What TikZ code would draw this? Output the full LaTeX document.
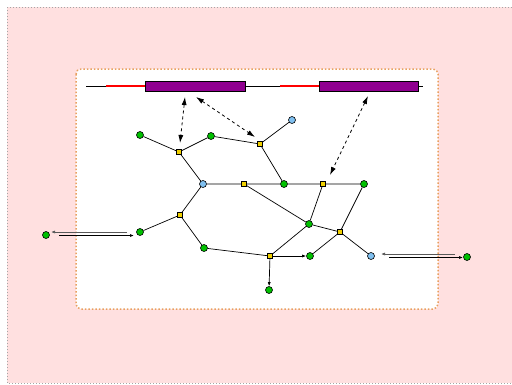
\documentclass[tikz,border=0pt]{standalone}
\usetikzlibrary{arrows.meta}
\definecolor{pinkbg}{HTML}{FFE0E0}
\definecolor{orangeb}{HTML}{E8A060}
\definecolor{grn}{HTML}{00C000}
\definecolor{ylw}{HTML}{F0D000}
\definecolor{blu}{HTML}{80C0F0}
\definecolor{purp}{HTML}{900090}
\begin{document}
\begin{tikzpicture}[x=1pt,y=-1pt,line width=0.8pt,
  gnode/.style={circle,draw=black,fill=grn,inner sep=0pt,minimum size=7pt,line width=0.6pt},
  bnode/.style={circle,draw=black,fill=blu,inner sep=0pt,minimum size=7pt,line width=0.6pt},
  ynode/.style={rectangle,draw=black,fill=ylw,inner sep=0pt,minimum size=5pt,line width=0.6pt},
  edge/.style={draw=black,line width=0.7pt},
  darr/.style={dashed,line width=0.8pt,{Latex[length=8pt,width=5pt]}-{Latex[length=8pt,width=5pt]}},
  sarr/.style={line width=0.7pt,-{Latex[length=4pt,width=3pt]}},
  exon/.style={draw=black,fill=purp,line width=0.7pt}]
\useasboundingbox (0,0) rectangle (512,384);
\draw[fill=pinkbg,draw=gray!70,dotted,line width=1pt] (7,7) rectangle (530,383);
\draw[fill=white,draw=orangeb,dotted,line width=1.5pt,rounded corners=5pt] (76,69) rectangle (438,309);
% track
\coordinate (t0) at (86,86);
\coordinate (t1) at (423,86);
\draw[line width=0.8pt] (t0) -- (t1);
\draw[red,line width=1.2pt] (106,86) -- (145,86);
\draw[red,line width=1.2pt] (280,86) -- (319,86);
\node[exon,minimum width=100pt,minimum height=10pt,inner sep=0pt] (e1) at (195,86) {};
\node[exon,minimum width=99pt,minimum height=10pt,inner sep=0pt] (e2) at (368.5,86) {};
% nodes
\node[gnode] (G1) at (140,135) {};
\node[ynode] (Y1) at (179,152) {};
\node[gnode] (G2) at (211,136) {};
\node[ynode] (Y2) at (260,144) {};
\node[bnode] (B1) at (292,120) {};
\node[bnode] (B2) at (203,184) {};
\node[ynode] (Y3) at (244,184) {};
\node[gnode] (G3) at (284,184) {};
\node[ynode] (Y4) at (323,184) {};
\node[gnode] (G4) at (364,184) {};
\node[ynode] (Y5) at (180,215) {};
\node[gnode] (G5) at (140,232) {};
\node[gnode] (G6) at (204,248) {};
\node[gnode] (G7) at (309,224) {};
\node[ynode] (Y6) at (340,232) {};
\node[ynode] (Y7) at (270,256) {};
\node[gnode] (G8) at (310,256) {};
\node[bnode] (B3) at (371,256) {};
\node[gnode] (G9) at (269,290) {};
\node[gnode] (G10) at (46,235) {};
\node[gnode] (G11) at (467,257) {};
% edges
\path[edge] (G1) -- (Y1) (Y1) -- (G2) (G2) -- (Y2) (Y2) -- (B1) (Y2) -- (G3)
  (Y1) -- (B2) (B2) -- (Y3) (Y3) -- (G3) (G3) -- (Y4) (Y4) -- (G4)
  (Y3) -- (G7) (Y4) -- (G7) (G7) -- (Y6) (G4) -- (Y6) (Y6) -- (G8) (Y6) -- (B3)
  (G7) -- (Y7) (G6) -- (Y7) (B2) -- (Y5) (Y5) -- (G5) (Y5) -- (G6);
\draw[sarr] (Y7) -- (G8);
\draw[sarr] (Y7) -- (G9);
% dashed arrows
\coordinate (a1s) at (185,97); \coordinate (a1e) at (180,143);
\coordinate (a2s) at (196,97); \coordinate (a2e) at (255,137);
\coordinate (a3s) at (368,96); \coordinate (a3e) at (330,175);
\draw[darr] (a1s) -- (a1e);
\draw[darr] (a2s) -- (a2e);
\draw[darr] (a3s) -- (a3e);
% double arrows
\coordinate (l1a) at (127,232); \coordinate (l1b) at (51,232);
\coordinate (l2a) at (59,235.5); \coordinate (l2b) at (134,235.5);
\draw[sarr,draw=black!65] (l1a) -- (l1b);
\draw[sarr] (l2a) -- (l2b);
\coordinate (r1a) at (455,254); \coordinate (r1b) at (381,254);
\coordinate (r2a) at (389,257.5); \coordinate (r2b) at (463,257.5);
\draw[sarr,draw=black!65] (r1a) -- (r1b);
\draw[sarr] (r2a) -- (r2b);
\end{tikzpicture}
\end{document}
